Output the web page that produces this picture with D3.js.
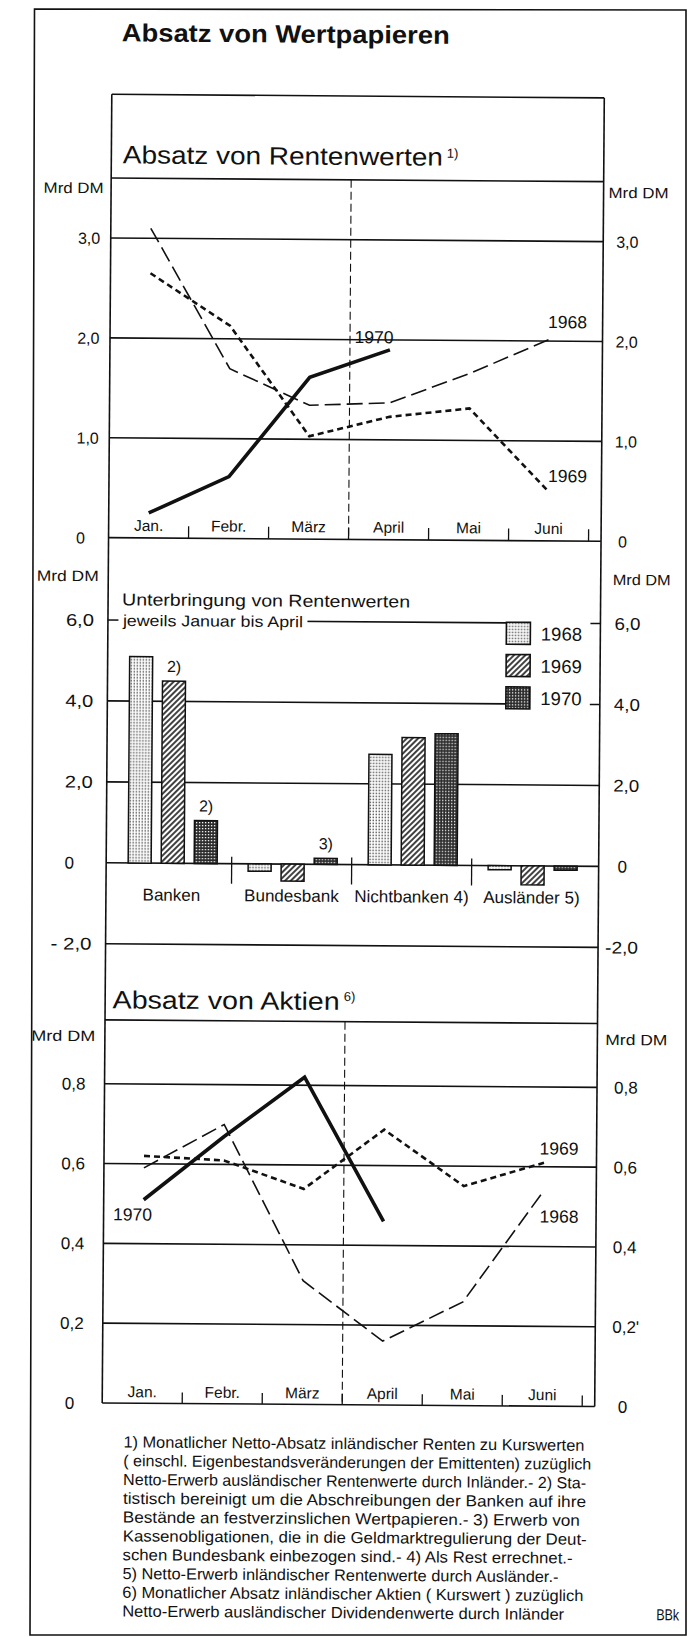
<!DOCTYPE html>
<html><head><meta charset="utf-8">
<script src="https://cdn.jsdelivr.net/npm/d3@7"></script>
<style>
html,body{margin:0;padding:0;background:#fff;}
svg{display:block;}
text{font-family:"Liberation Sans", Arial, sans-serif; fill:#111;}
</style></head><body>
<svg id="c" width="688" height="1637"></svg>
<script>
// ---------------- DATA ----------------
const months = ["Jan.","Febr.","März","April","Mai","Juni"];
// Absatz von Rentenwerten (Mrd DM)
const renten1968 = [3.1, 1.7, 1.34, 1.37, 1.67, 2.02];
const renten1969 = [2.65, 2.13, 1.03, 1.23, 1.32, 0.49];
const renten1970 = [0.25, 0.62, 1.62, 1.9];
const rentenTicks = [0, 1, 2, 3];
const rentenTickLabels = ["0", "1,0", "2,0", "3,0"];

// Unterbringung von Rentenwerten, jeweils Januar bis April (Mrd DM)
const groups = ["Banken", "Bundesbank", "Nichtbanken 4)", "Ausländer 5)"];
const years = ["1968", "1969", "1970"];
const unter1968 = [5.1, -0.18, 2.73, -0.1];
const unter1969 = [4.5, -0.42, 3.15, -0.47];
const unter1970 = [1.06, 0.15, 3.25, -0.1];
const unterTicks = [-2, 0, 2, 4, 6];
const unterTickLabelsLeft = ["- 2,0", "0", "2,0", "4,0", "6,0"];
const unterTickLabelsRight = ["-2,0", "0", "2,0", "4,0", "6,0"];
const barNoteGroups = ["Banken", "Banken", "Bundesbank"];
const barNoteYears = ["1969", "1970", "1970"];
const barNoteTexts = ["2)", "2)", "3)"];

// Absatz von Aktien (Mrd DM)
const aktien1968 = [0.59, 0.70, 0.31, 0.16, 0.26, 0.54];
const aktien1969 = [0.62, 0.61, 0.54, 0.69, 0.55, 0.61];
const aktien1970 = [0.51, 0.67, 0.82, 0.46];
const aktienTicks = [0, 0.2, 0.4, 0.6, 0.8];
const aktienTickLabelsLeft = ["0", "0,2", "0,4", "0,6", "0,8"];
const aktienTickLabelsRight = ["0", "0,2'", "0,4", "0,6", "0,8"];

const footnotes = [
  "1) Monatlicher Netto-Absatz inländischer Renten zu Kurswerten",
  "( einschl. Eigenbestandsveränderungen der Emittenten) zuzüglich",
  "Netto-Erwerb ausländischer Rentenwerte durch Inländer.- 2) Sta-",
  "tistisch bereinigt um die Abschreibungen der Banken auf ihre",
  "Bestände an festverzinslichen Wertpapieren.- 3) Erwerb von",
  "Kassenobligationen, die in die Geldmarktregulierung der Deut-",
  "schen Bundesbank einbezogen sind.- 4) Als Rest errechnet.-",
  "5) Netto-Erwerb inländischer Rentenwerte durch Ausländer.-",
  "6) Monatlicher Absatz inländischer Aktien ( Kurswert ) zuzüglich",
  "Netto-Erwerb ausländischer Dividendenwerte durch Inländer"
];
const footnoteWidths = [461, 468, 463, 463, 457, 464, 450, 436, 461, 442];

// ---------------- DRAWING ----------------
const svg = d3.select("#c");
const INK = "#111";

// patterns
const defs = svg.append("defs");
const p68 = defs.append("pattern").attr("id","p1968").attr("patternUnits","userSpaceOnUse").attr("width",3).attr("height",3);
p68.append("rect").attr("width",3).attr("height",3).attr("fill","#fff");
p68.append("rect").attr("x",0.6).attr("y",0.6).attr("width",1.3).attr("height",1.3).attr("fill","#222");
const p69 = defs.append("pattern").attr("id","p1969").attr("patternUnits","userSpaceOnUse").attr("width",4).attr("height",4).attr("patternTransform","rotate(45)");
p69.append("rect").attr("width",4).attr("height",4).attr("fill","#fff");
p69.append("line").attr("x1",1).attr("y1",-1).attr("x2",1).attr("y2",5).attr("stroke","#111").attr("stroke-width",1.6);
const p70 = defs.append("pattern").attr("id","p1970").attr("patternUnits","userSpaceOnUse").attr("width",3).attr("height",3);
p70.append("rect").attr("width",3).attr("height",3).attr("fill","#2a2a2a");
p70.append("rect").attr("x",1).attr("y",1).attr("width",1.3).attr("height",1.3).attr("fill","#fff");
const patFill = {"1968":"url(#p1968)","1969":"url(#p1969)","1970":"url(#p1970)"};

// outer frame (not rotated)
svg.append("path")
  .attr("d","M34.5,9 L686,10 L686,1635 L30,1635 Z")
  .attr("fill","none").attr("stroke",INK).attr("stroke-width",1.6);

const g = svg.append("g").attr("transform","rotate(0.42,344,818)");

function hline(p, x1, x2, y, w) {
  p.append("line").attr("x1",x1).attr("x2",x2).attr("y1",y).attr("y2",y)
    .attr("stroke",INK).attr("stroke-width",w||1.6);
}
function vline(p, x, y1, y2, w, dash) {
  const l = p.append("line").attr("x1",x).attr("x2",x).attr("y1",y1).attr("y2",y2)
    .attr("stroke",INK).attr("stroke-width",w||1.6);
  if (dash) l.attr("stroke-dasharray",dash);
  return l;
}
function txt(p, x, y, s, size, anchor, extra) {
  const t = p.append("text").attr("x",x).attr("y",y).attr("font-size",size)
    .attr("text-anchor",anchor||"start").text(s);
  if (extra) Object.entries(extra).forEach(([k,v]) => t.attr(k,v));
  return t;
}
const fit = w => ({"textLength": w, "lengthAdjust": "spacingAndGlyphs"});

const L = 106.5, R = 599;

// title
txt(g, 116, 43, "Absatz von Wertpapieren", 25, "start",
  Object.assign({"font-weight":"bold"}, fit(328)));

// inner panel frame
hline(g, L, R, 96);
vline(g, L, 96, 1404.7);
vline(g, R, 96, 1404.7);

// month scale (shared)
const xm = d3.scaleBand().domain(months).range([L, 586.5]);
const mc = i => xm(months[i]) + xm.bandwidth()/2;

// ======== Chart 1: Absatz von Rentenwerten ========
const y1 = d3.scaleLinear().domain([0, 3.6]).range([539.4, 539.4 - 3.6*99.9]);
txt(g, 118, 165, "Absatz von Rentenwerten", 25, "start", fit(320));
txt(g, 442, 157, "1)", 13);
hline(g, L, R, y1(3.6));
rentenTicks.forEach(v => hline(g, L, R, y1(v)));
months.forEach((m,i) => {
  const xb = xm(m) + xm.bandwidth();
  vline(g, xb, y1(0), y1(0) - 12, 1.3);
  txt(g, mc(i), y1(0) - 7, m, 15.5, "middle");
});
vline(g, xm("April"), y1(3.6), y1(0), 1.1, "8,4");
txt(g, 39, 195, "Mrd DM", 15, "start", fit(60));
txt(g, 604, 196, "Mrd DM", 15, "start", fit(60));
rentenTicks.forEach((v,i) => {
  const lab = rentenTickLabels[i];
  if (lab === "0") txt(g, 74, y1(v) + 6, lab, 16, "start");
  else txt(g, 96, y1(v) + 6, lab, 16, "end");
  txt(g, lab === "0" ? 616 : 612, y1(v) + 6, lab, 16, "start");
});
const line1 = d3.line().x((d,i) => mc(i)).y(d => y1(d));
g.append("path").datum(renten1968).attr("d", line1).attr("fill","none")
  .attr("stroke",INK).attr("stroke-width",1.6).attr("stroke-dasharray","16,6");
g.append("path").datum(renten1969).attr("d", line1).attr("fill","none")
  .attr("stroke",INK).attr("stroke-width",2.6).attr("stroke-dasharray","6,4");
g.append("path").datum(renten1970).attr("d", line1).attr("fill","none")
  .attr("stroke",INK).attr("stroke-width",3.6);
txt(g, 351, 343, "1970", 17.5);
txt(g, 544.5, 326.5, "1968", 17.5);
txt(g, 545.5, 480.5, "1969", 17.5);

// ======== Chart 2: Unterbringung von Rentenwerten ========
const y2 = d3.scaleLinear().domain([-2, 6]).range([945.5, 621.7]);
const xg = d3.scaleBand().domain(groups).range([112, 592]);
const xy = d3.scaleBand().domain(years).range([16.5, 105.5]).paddingInner(0.303);
const unter = {"1968": unter1968, "1969": unter1969, "1970": unter1970};
const LEG = 505;
[6, 4].forEach(v => { hline(g, L, LEG, y2(v)); hline(g, 589, R, y2(v)); });
[2, 0, -2].forEach(v => hline(g, L, R, y2(v)));
g.append("rect").attr("x",117).attr("y",612).attr("width",189).attr("height",19).attr("fill","#fff");
txt(g, 120.5, 607, "Unterbringung von Rentenwerten", 17, "start", fit(288));
txt(g, 121.5, 627.5, "jeweils Januar bis April", 15.5, "start", fit(180));
groups.forEach((grp, gi) => {
  years.forEach(yr => {
    const v = unter[yr][gi];
    g.append("rect")
      .attr("x", xg(grp) + xy(yr))
      .attr("y", Math.min(y2(v), y2(0)))
      .attr("width", xy.bandwidth())
      .attr("height", Math.abs(y2(v) - y2(0)))
      .attr("fill", patFill[yr]).attr("stroke", INK).attr("stroke-width", 1.5);
  });
});
barNoteTexts.forEach((t, i) => {
  const grp = barNoteGroups[i], yr = barNoteYears[i];
  const v = unter[yr][groups.indexOf(grp)];
  txt(g, xg(grp) + xy(yr) + xy.bandwidth()/2, y2(Math.max(v,0)) - 9, t, 16, "middle");
});
groups.forEach((grp, gi) => {
  if (gi > 0) vline(g, xg(grp), y2(0) - 7, y2(0) + 20, 1.3);
  txt(g, xg(grp) + xg.bandwidth()/2, 902, grp, 17, "middle");
});
years.forEach((yr, i) => {
  g.append("rect").attr("x", LEG).attr("y", 621 + i*32.3).attr("width", 24).attr("height", 22)
    .attr("fill", patFill[yr]).attr("stroke", INK).attr("stroke-width", 1.6);
  txt(g, 539.5, 621 + i*32.3 + 18, yr, 18.5);
});
txt(g, 35, 583, "Mrd DM", 15, "start", fit(62));
txt(g, 611, 583, "Mrd DM", 15, "start", fit(58));
unterTicks.forEach((v, i) => {
  const l = unterTickLabelsLeft[i], r = unterTickLabelsRight[i];
  if (l === "0") txt(g, 65, y2(v) + 6, l, 17, "start");
  else txt(g, 92.5, y2(v) + 6, l, 17, "end", fit(l.length > 3 ? 41 : 28));
  if (r === "0") txt(g, 618, y2(v) + 6, r, 17, "start");
  else txt(g, 639, y2(v) + 6, r, 17, "end", fit(r.length > 3 ? 33 : 26));
});

// ======== Chart 3: Absatz von Aktien ========
const y3 = d3.scaleLinear().domain([0, 0.96]).range([1404.7, 1404.7 - 0.96*399]);
txt(g, 114, 1010, "Absatz von Aktien", 25, "start", fit(227));
txt(g, 345, 1001, "6)", 13);
hline(g, L, R, y3(0.96));
aktienTicks.forEach(v => hline(g, L, R, y3(v)));
months.forEach((m,i) => {
  const xb = xm(m) + xm.bandwidth();
  vline(g, xb, y3(0), y3(0) - 11, 1.3);
  txt(g, mc(i), y3(0) - 6, m, 15.5, "middle");
});
vline(g, xm("April"), y3(0.96), y3(0), 1.1, "8,4");
txt(g, 33, 1043, "Mrd DM", 15, "start", fit(64));
txt(g, 607, 1043, "Mrd DM", 15, "start", fit(62));
aktienTicks.forEach((v, i) => {
  const l = aktienTickLabelsLeft[i], r = aktienTickLabelsRight[i];
  if (l === "0") txt(g, 69, y3(v) + 6, l, 17, "start");
  else txt(g, 87.5, y3(v) + 6, l, 17, "end");
  txt(g, r === "0" ? 622 : 616, y3(v) + 6, r, 17, "start");
});
const line3 = d3.line().x((d,i) => mc(i)).y(d => y3(d));
g.append("path").datum(aktien1968).attr("d", line3).attr("fill","none")
  .attr("stroke",INK).attr("stroke-width",1.6).attr("stroke-dasharray","16,6");
g.append("path").datum(aktien1969).attr("d", line3).attr("fill","none")
  .attr("stroke",INK).attr("stroke-width",2.6).attr("stroke-dasharray","6,4");
g.append("path").datum(aktien1970).attr("d", line3).attr("fill","none")
  .attr("stroke",INK).attr("stroke-width",3.6);
txt(g, 116, 1222, "1970", 17.5);
txt(g, 542, 1153, "1969", 17.5);
txt(g, 542.5, 1221, "1968", 17.5);

// ======== Footnotes ========
footnotes.forEach((s, i) => txt(g, 128, 1449 + i*18.8, s, 16, "start", fit(footnoteWidths[i])));
txt(g, 662, 1618, "BBk", 16, "start", fit(23));
</script>
</body></html>
